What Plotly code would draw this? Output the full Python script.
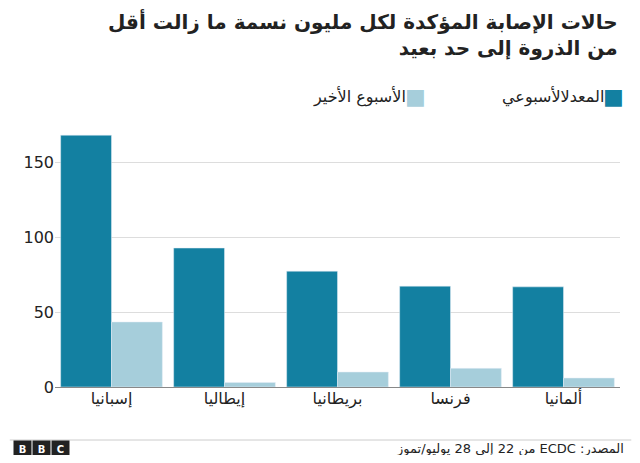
import plotly.graph_objects as go

countries = ["إسبانيا", "إيطاليا", "بريطانيا", "فرنسا", "ألمانيا"]
weekly_avg = [168.5, 93, 77.5, 67.5, 67]
last_week = [43.5, 3, 10, 12.5, 6]

FONT = "DejaVu Sans, Noto Sans, sans-serif"
fig = go.Figure()
fig.add_bar(x=countries, y=weekly_avg, name="المعدلالأسبوعي", marker_color="#1380a1")
fig.add_bar(x=countries, y=last_week, name="الأسبوع الأخير", marker_color="#a6cedb")

fig.update_layout(
    width=624, height=447, barmode="group", bargap=0.1, bargroupgap=0,
    plot_bgcolor="white", paper_bgcolor="white",
    margin=dict(l=47, r=12, t=110, b=68),
    font=dict(family=FONT, size=15, color="#222"),
    showlegend=False,
    yaxis=dict(range=[0, 180], tickvals=[0, 50, 100, 150], gridcolor="#dddddd",
               zeroline=True, zerolinecolor="#888", zerolinewidth=1,
               tickfont=dict(size=16), ticks=""),
    xaxis=dict(tickfont=dict(size=16), ticks=""),
)
fig.add_annotation(text="<b>حالات الإصابة المؤكدة لكل مليون نسمة ما زالت أقل<br>من الذروة إلى حد بعيد</b>",
                   xref="paper", yref="paper", x=1.0, y=1, yshift=112, xanchor="right", yanchor="top",
                   align="right", showarrow=False, font=dict(size=20, color="#222"))
# legend
fig.add_annotation(text="المعدلالأسبوعي", xref="paper", yref="paper", x=0.975, y=1, yshift=22,
                   xanchor="right", yanchor="middle", showarrow=False, font=dict(size=16))
fig.add_annotation(text="■", xref="paper", yref="paper", x=1.01, y=1, yshift=22,
                   xanchor="right", yanchor="middle", showarrow=False, font=dict(size=22, color="#1380a1"))
fig.add_annotation(text="الأسبوع الأخير", xref="paper", yref="paper", x=0.625, y=1, yshift=22,
                   xanchor="right", yanchor="middle", showarrow=False, font=dict(size=16))
fig.add_annotation(text="■", xref="paper", yref="paper", x=0.66, y=1, yshift=22,
                   xanchor="right", yanchor="middle", showarrow=False, font=dict(size=22, color="#a6cedb"))
# footer line
fig.add_shape(type="line", xref="paper", yref="paper", x0=-0.08, x1=1.02, y0=-53/269, y1=-53/269,
              line=dict(color="#cccccc", width=1))
fig.add_annotation(text="\u202bالمصدر: ECDC من 22 إلى 28 يوليو/تموز\u202c", xref="paper", yref="paper", x=1.01, y=0,
                   yshift=-62, xanchor="right", yanchor="middle", showarrow=False, font=dict(size=13))
for i, ch in enumerate("BBC"):
    fig.add_annotation(text="<b>%s</b>" % ch, xref="paper", yref="paper", x=-0.058 + i*0.034, y=0,
                       yshift=-62, xanchor="center", yanchor="middle", showarrow=False,
                       font=dict(size=10, color="white"), bgcolor="#222", width=15, height=14)
fig.write_html("out.html")
